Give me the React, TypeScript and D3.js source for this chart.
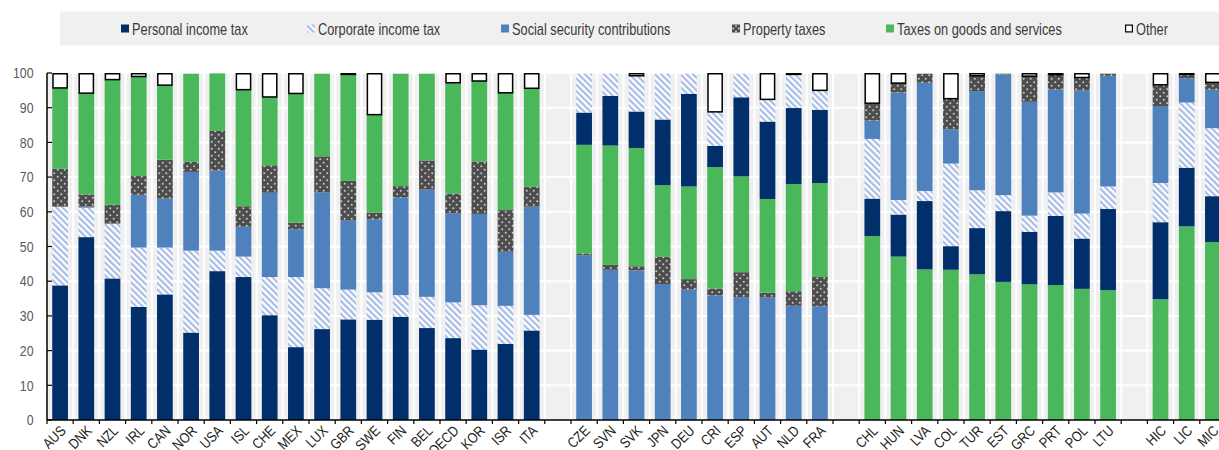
import React from "react";
import * as d3 from "d3";

// ---------- DATA ----------
const group1 = ["AUS","DNK","NZL","IRL","CAN","NOR","USA","ISL","CHE","MEX","LUX","GBR","SWE","FIN","BEL","OECD","KOR","ISR","ITA"];
const group2 = ["CZE","SVN","SVK","JPN","DEU","CRI","ESP","AUT","NLD","FRA"];
const group3 = ["CHL","HUN","LVA","COL","TUR","EST","GRC","PRT","POL","LTU"];
const group4 = ["HIC","LIC","MIC"];

const seriesKeys = ["pit","cit","ssc","prop","goods","other"];
const seriesLabels = ["Personal income tax","Corporate income tax","Social security contributions","Property taxes","Taxes on goods and services","Other"];

// stacking order (bottom -> top) per group
const order1 = ["pit","cit","ssc","prop","goods","other"];
const order2 = ["ssc","prop","goods","pit","cit","other"];
const order3 = ["goods","pit","cit","ssc","prop","other"];
const order4 = ["goods","pit","cit","ssc","prop","other"];

// values (% of total tax revenue), aligned with group1..group4 concatenated
const pit = [38.8,52.7,40.8,32.6,36.2,25.2,42.9,41.2,30.2,21.0,26.2,29.0,28.9,29.7,26.5,23.6,20.3,21.9,25.8,
  9.3,14.3,10.5,18.9,26.7,6.1,22.8,22.3,21.9,21.1,
  10.8,12.1,19.7,6.8,13.3,20.4,15.1,19.9,14.5,23.4,
  22.2,16.9,13.2];
const cit = [22.7,8.5,15.8,17.1,13.5,23.6,5.9,5.9,11.0,20.2,11.8,8.6,7.9,6.3,9.0,10.3,12.8,11.0,4.5,
  11.2,6.4,10.3,13.2,5.8,9.8,6.8,6.4,9.7,5.6,
  17.2,4.2,2.9,23.8,10.9,4.6,4.7,6.8,7.2,6.5,
  11.3,18.8,19.6];
const ssc = [0,0.3,0,15.2,14.1,22.7,23.1,8.6,24.3,13.8,27.6,19.9,21.0,28.1,30.9,25.7,26.3,15.6,31.2,
  47.5,43.3,43.1,39.2,37.6,35.9,35.4,35.4,32.9,32.8,
  5.3,31.0,31.2,9.9,28.6,34.8,32.8,29.7,35.5,31.9,
  22.2,7.0,11.1];
const prop = [10.9,3.5,5.4,5.4,11.2,2.9,11.4,5.9,7.9,1.9,10.4,11.4,2.0,3.3,8.4,5.6,15.1,12.0,5.7,
  0.5,1.4,1.2,7.8,3.0,2.0,7.2,1.3,4.2,8.4,
  5.0,2.7,2.6,8.8,4.4,0.2,7.4,4.2,3.7,0.6,
  6.1,1.1,2.1];
const goods = [23.3,29.2,36.1,28.7,21.5,25.4,16.6,33.6,19.7,37.2,23.8,30.7,28.2,32.4,25.0,32.0,23.2,33.8,28.4,
  31.3,34.4,34.1,20.7,26.7,35.0,27.6,27.0,30.9,27.1,
  53.0,47.1,43.4,43.3,42.0,39.8,39.1,38.9,37.8,37.4,
  34.8,55.8,51.3];
const other = [4.3,5.8,1.9,1.0,3.5,0.2,0.1,4.8,6.9,5.9,0.2,0.4,12.0,0.2,0.2,2.8,2.3,5.7,4.4,
  0.2,0.2,0.8,0.2,0.2,11.2,0.2,7.6,0.4,5.0,
  8.7,2.9,0.2,7.4,0.8,0.2,0.9,0.5,1.3,0.2,
  3.4,0.4,2.7];

const yTicks = [0,10,20,30,40,50,60,70,80,90,100];

// ---------- STYLE ----------
const W = 1219, H = 450;
const FONT = "'Liberation Sans Narrow','Arial Narrow','Liberation Sans',Arial,sans-serif";
const colors: Record<string,string> = {
  pit: "#002F6C",
  cit: "url(#hatchCIT)",
  ssc: "#4F81BD",
  prop: "url(#dotsProp)",
  goods: "#4AB85A",
  other: "#FFFFFF",
};

export default function App() {
  const groups = [group1, group2, group3, group4];
  const orders = [order1, order2, order3, order4];
  const values: Record<string, number[]> = { pit, cit, ssc, prop, goods, other };

  // slots: categories with an empty slot between groups
  const slots: string[] = [];
  groups.forEach((g, gi) => {
    if (gi > 0) slots.push(`__gap${gi}`);
    g.forEach((c) => slots.push(c));
  });
  const plotLeft = 47;
  const step = 26.2;
  const x = d3.scaleBand<string>()
    .domain(slots)
    .range([plotLeft, plotLeft + slots.length * step])
    .paddingInner(0.4)
    .paddingOuter(0.2);
  const y = d3.scaleLinear().domain([0, 100]).range([420, 73]);

  const rects: { key: string; s: string; x: number; y0: number; y1: number }[] = [];
  let idx = 0;
  groups.forEach((g, gi) => {
    g.forEach((c) => {
      let cum = 0;
      orders[gi].forEach((s) => {
        const v = values[s][idx];
        if (v > 0) rects.push({ key: c, s, x: x(c)!, y0: cum, y1: cum + v });
        cum += v;
      });
      idx++;
    });
  });

  const boundaries = d3.range(slots.length + 1).map((k) => plotLeft + k * x.step());

  const legendItems = [
    { s: "pit", x: 121 },
    { s: "cit", x: 307 },
    { s: "ssc", x: 501 },
    { s: "prop", x: 732 },
    { s: "goods", x: 886 },
    { s: "other", x: 1125 },
  ];
  const SX = 0.8; // horizontal condensing to mimic a narrow font

  return (
    <div style={{ position: "fixed", left: 0, top: 0, width: W, height: H, background: "#fff" }}>
      <svg width={W} height={H} style={{ display: "block", fontFamily: FONT }}>
        <defs>
          <pattern id="hatchCIT" patternUnits="userSpaceOnUse" width="4.5" height="4.5" patternTransform="rotate(-45)">
            <rect width="4.5" height="4.5" fill="#ffffff" />
            <rect width="2.2" height="4.5" fill="#A8BCE6" />
          </pattern>
          <pattern id="dotsProp" patternUnits="userSpaceOnUse" width="7" height="7">
            <rect width="7" height="7" fill="#4D4D4D" />
            <circle cx="1.75" cy="1.75" r="1" fill="#C8C8C8" />
            <circle cx="5.25" cy="5.25" r="1" fill="#C8C8C8" />
          </pattern>
        </defs>

        {/* legend */}
        <rect x={60} y={11.5} width={W - 60} height={34} fill="#F0F0F0" />
        {legendItems.map((it) => (
          <g key={it.s}>
            {it.s === "prop" ? (
              <g transform={`translate(${it.x},${24.5})`}>
                <rect width={8} height={8} fill="#4D4D4D" />
                <circle cx={4} cy={1.3} r={0.9} fill="#ddd" />
                <circle cx={4} cy={6.7} r={0.9} fill="#ddd" />
                <circle cx={1.3} cy={4} r={0.9} fill="#ddd" />
                <circle cx={6.7} cy={4} r={0.9} fill="#ddd" />
              </g>
            ) : (
              <rect
                x={it.x + (it.s === "other" ? 0.6 : 0)}
                y={24.5 + (it.s === "other" ? 0.6 : 0)}
                width={it.s === "other" ? 6.8 : 8}
                height={it.s === "other" ? 6.8 : 8}
                fill={colors[it.s]}
                stroke={it.s === "other" ? "#000" : "none"}
                strokeWidth={1.2}
              />
            )}
            <text
              transform={`translate(${it.x + 11},${34.5}) scale(${SX},1)`}
              fontSize={16}
              fill="#3a3a3a"
            >
              {seriesLabels[seriesKeys.indexOf(it.s)]}
            </text>
          </g>
        ))}

        {/* plot background */}
        <rect x={plotLeft} y={y(100)} width={W - plotLeft} height={y(0) - y(100)} fill="#F0F0F0" />
        {yTicks.filter((t) => t > 0).map((t) => (
          <line key={t} x1={plotLeft} x2={W} y1={y(t)} y2={y(t)} stroke="#fff" strokeWidth={2} />
        ))}
        {boundaries.slice(1).map((b, i) => (
          <line key={i} x1={b} x2={b} y1={y(100)} y2={y(0)} stroke="#fff" strokeWidth={2} />
        ))}

        {/* bars */}
        {rects.map((r, i) => (
          <rect
            key={i}
            x={r.s === "other" ? r.x + 0.75 : r.x}
            y={y(r.y1) + (r.s === "other" ? 0.75 : 0)}
            width={r.s === "other" ? x.bandwidth() - 1.5 : x.bandwidth()}
            height={Math.max(0, y(r.y0) - y(r.y1) - (r.s === "other" ? 0.75 : 0))}
            fill={colors[r.s]}
            stroke={r.s === "other" ? "#000" : "none"}
            strokeWidth={1.5}
          />
        ))}

        {/* axes */}
        <line x1={plotLeft} x2={plotLeft} y1={y(100)} y2={y(0)} stroke="#000" strokeWidth={1.5} />
        <line x1={plotLeft} x2={W} y1={y(0)} y2={y(0)} stroke="#000" strokeWidth={1.5} />
        {yTicks.map((t) => (
          <g key={t}>
            <line x1={plotLeft} x2={plotLeft + 5} y1={y(t)} y2={y(t)} stroke="#000" strokeWidth={1.2} />
            <text
              transform={`translate(33.5,${y(t)}) scale(0.85,1)`}
              dy="0.36em"
              textAnchor="end"
              fontSize={14.5}
              fill="#595959"
            >
              {t}
            </text>
          </g>
        ))}
        {boundaries.map((b, i) => (
          <line key={i} x1={b} x2={b} y1={y(0)} y2={y(0) + 4} stroke="#000" strokeWidth={1.2} />
        ))}
        {slots.filter((s) => !s.startsWith("__")).map((s) => {
          const cx = x(s)! + x.bandwidth() / 2;
          return (
            <text
              key={s}
              transform={`translate(${cx + 3},${428}) rotate(-45) scale(0.85,1)`}
              textAnchor="end"
              dy="0.35em"
              fontSize={14.5}
              fill="#222"
            >
              {s}
            </text>
          );
        })}
      </svg>
    </div>
  );
}
